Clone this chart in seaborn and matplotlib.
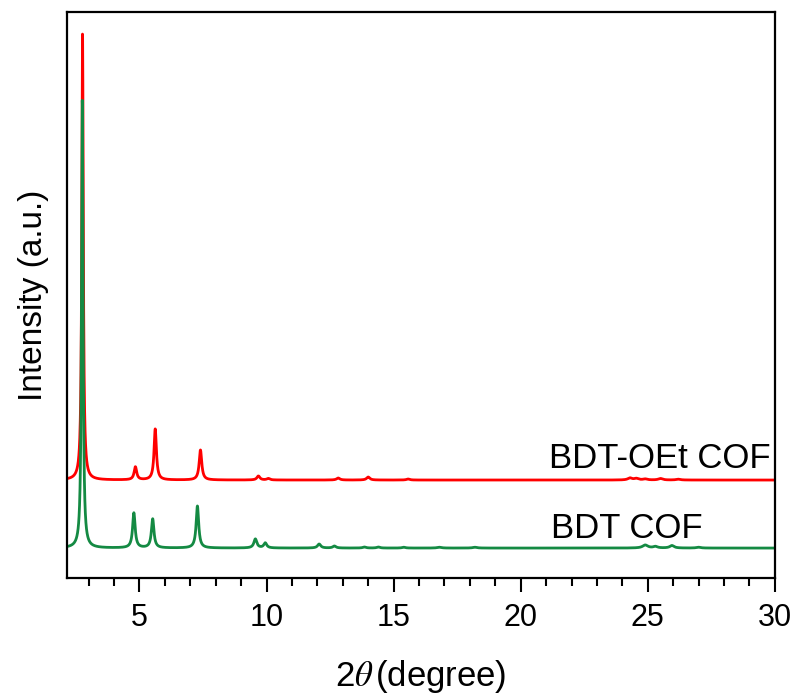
import matplotlib
matplotlib.use("Agg")
import matplotlib.pyplot as plt
from matplotlib.ticker import MultipleLocator
import seaborn as sns
import pandas as pd
import numpy as np

# peak positions (2theta), heights (a.u.) and widths
oet_pos = [2.76, 4.84, 5.62, 7.40, 9.68, 10.07, 12.82, 14.00, 15.57, 24.30, 24.55, 24.90, 25.50, 26.20]
oet_int = [447, 13, 51, 30, 4, 1.5, 2, 3, 1, 2, 1.5, 1, 1.5, 0.8]
oet_fwhm = [0.07, 0.12, 0.11, 0.12, 0.14, 0.14, 0.15, 0.15, 0.15, 0.2, 0.2, 0.2, 0.2, 0.2]

bdt_pos = [2.75, 4.78, 5.52, 7.28, 9.56, 9.95, 12.07, 12.67, 13.85, 14.40, 15.40, 16.80, 18.20, 24.90, 25.30, 25.95, 27.00]
bdt_int = [448, 35, 29, 42, 9, 5, 4, 2, 1, 1, 0.8, 0.8, 0.8, 3, 1.5, 2.5, 0.8]
bdt_fwhm = [0.07, 0.12, 0.12, 0.12, 0.14, 0.14, 0.15, 0.15, 0.15, 0.15, 0.15, 0.2, 0.2, 0.25, 0.2, 0.2, 0.2]

oet_offset = 68
labels = ["BDT-OEt COF", "BDT COF"]
colors = ["#ff0000", "#148a43"]

two_theta = np.linspace(2.15, 30, 6000)


def pattern(pos, inten, fwhm, offset):
    y = np.zeros_like(two_theta) + offset
    for p, h, w in zip(pos, inten, fwhm):
        g = (w / 2) ** 2
        y += h * g / ((two_theta - p) ** 2 + g)
    return y


df_oet = pd.DataFrame({"x": two_theta, "y": pattern(oet_pos, oet_int, oet_fwhm, oet_offset)})
df_bdt = pd.DataFrame({"x": two_theta, "y": pattern(bdt_pos, bdt_int, bdt_fwhm, 0)})

sns.set_style("white")
plt.rcParams["font.family"] = ["Liberation Sans", "DejaVu Sans"]
plt.rcParams["mathtext.fontset"] = "stix"
plt.rcParams["text.color"] = "black"
plt.rcParams["axes.labelcolor"] = "black"

fig = plt.figure(figsize=(7.98, 6.99), dpi=100)
ax = fig.add_axes([0.084, 0.173, 0.887, 0.810])

sns.lineplot(data=df_oet, x="x", y="y", color=colors[0], linewidth=2.0, ax=ax)
sns.lineplot(data=df_bdt, x="x", y="y", color=colors[1], linewidth=2.0, ax=ax)

ax.text(21.1, oet_offset + 12, labels[0], fontsize=25, ha="left", va="baseline")
ax.text(21.2, 10, labels[1], fontsize=25, ha="left", va="baseline")

ax.set_xlim(2.15, 30)
ax.set_ylim(-30, 536)
ax.set_yticks([])
ax.xaxis.set_major_locator(MultipleLocator(5))
ax.xaxis.set_minor_locator(MultipleLocator(1))
ax.tick_params(axis="x", which="major", direction="out", length=10, width=1.5,
               labelsize=22, bottom=True, pad=8, colors="black")
ax.tick_params(axis="x", which="minor", direction="out", length=5.5, width=1.5,
               bottom=True, colors="black")

for s in ax.spines.values():
    s.set_color("black")
    s.set_linewidth(1.6)

ax.set_xlabel(r"2$\theta\,$(degree)", fontsize=25, labelpad=18)
ax.set_ylabel("Intensity (a.u.)", fontsize=24, labelpad=13)

fig.savefig("out.png", dpi=100)
